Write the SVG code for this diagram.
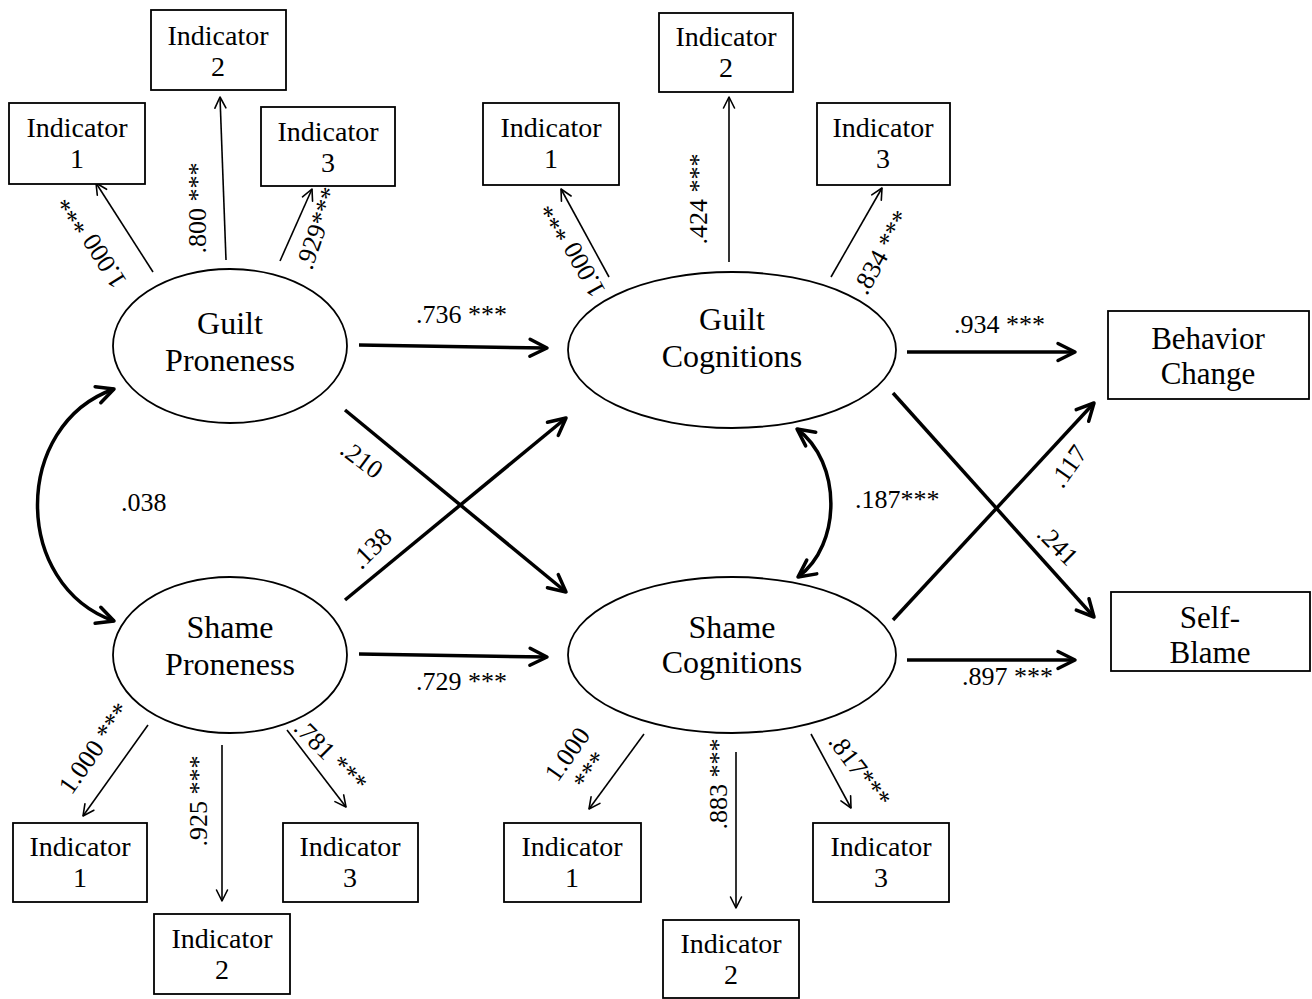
<svg xmlns="http://www.w3.org/2000/svg" width="1312" height="999" viewBox="0 0 1312 999">
<style>
text{font-family:"Liberation Serif","Times New Roman",serif;fill:#000}
.ind{font-size:28px;text-anchor:middle}
.lat{font-size:32px;text-anchor:middle}
.out{font-size:31px;text-anchor:middle}
.lbl{font-size:26px}
.c{text-anchor:middle}
rect{fill:#fff;stroke:#000;stroke-width:1.8}
ellipse{fill:#fff;stroke:#000;stroke-width:1.8}
.thin{stroke:#000;stroke-width:1.6;fill:none;marker-end:url(#ah)}
.thick{stroke:#000;stroke-width:3.5;fill:none;marker-end:url(#AH)}
.corr{stroke:#000;stroke-width:3.5;fill:none;marker-start:url(#AH2);marker-end:url(#AH2)}
</style>
<defs>
<marker id="ah" markerUnits="userSpaceOnUse" markerWidth="16" markerHeight="16" viewBox="-14 -8 16 16" refX="0" refY="0" orient="auto">
<path d="M-11,-5.5 L0,0 L-11,5.5" fill="none" stroke="#000" stroke-width="1.6" stroke-linejoin="round" stroke-linecap="round"/>
</marker>
<marker id="AH" markerUnits="userSpaceOnUse" markerWidth="26" markerHeight="26" viewBox="-22 -13 26 26" refX="0" refY="0" orient="auto">
<path d="M-17,-8.5 L0,0 L-17,8.5" fill="none" stroke="#000" stroke-width="3.5" stroke-linejoin="round" stroke-linecap="round"/>
</marker>
<marker id="AH2" markerUnits="userSpaceOnUse" markerWidth="26" markerHeight="26" viewBox="-22 -13 26 26" refX="0" refY="0" orient="auto-start-reverse">
<path d="M-17,-8.5 L0,0 L-17,8.5" fill="none" stroke="#000" stroke-width="3.5" stroke-linejoin="round" stroke-linecap="round"/>
</marker>
</defs>
<rect x="0" y="0" width="1312" height="999" style="fill:#fff;stroke:none"/>

<g id="connectors">
<!-- guilt proneness loadings -->
<path class="thin" d="M153,272 L96,183"/>
<path class="thin" d="M226,260 L220,97"/>
<path class="thin" d="M280,261 L312,189"/>
<!-- guilt cognitions loadings -->
<path class="thin" d="M609,277 L561,189"/>
<path class="thin" d="M729,262 L729,97"/>
<path class="thin" d="M831,277 L882,188"/>
<!-- shame proneness loadings -->
<path class="thin" d="M148,725 L83,816"/>
<path class="thin" d="M222,745 L222,901"/>
<path class="thin" d="M287,730 L346,807"/>
<!-- shame cognitions loadings -->
<path class="thin" d="M644,734 L589,809"/>
<path class="thin" d="M736,752 L736,908"/>
<path class="thin" d="M811,734 L851,808"/>
<!-- structural paths -->
<path class="thick" d="M359,345 L547,348"/>
<path class="thick" d="M359,654 L547,657"/>
<path class="thick" d="M345,410 L566,592"/>
<path class="thick" d="M345,600 L566,418"/>
<path class="thick" d="M907,352 L1075,352"/>
<path class="thick" d="M907,660 L1075,660"/>
<path class="thick" d="M893,393 L1094,617"/>
<path class="thick" d="M893,620 L1094,403"/>
<!-- correlations -->
<path class="corr" d="M114,389 C12,425 12,585 114,621"/>
<path class="corr" d="M797,429 C842,462 842,545 798,577"/>

<!-- labels -->
<text class="lbl c" transform="translate(92,242) rotate(238)" dy="9">1.000 ***</text>
<text class="lbl c" transform="translate(197,208) rotate(-90)" dy="9">.800 ***</text>
<text class="lbl c" transform="translate(317,228) rotate(-71)" dy="9">.929***</text>
<text class="lbl c" transform="translate(573,250) rotate(241)" dy="9">1.000 ***</text>
<text class="lbl c" transform="translate(698,199) rotate(-90)" dy="9">.424 ***</text>
<text class="lbl c" transform="translate(881,252) rotate(-61)" dy="9">.834 ***</text>
<text class="lbl c" transform="translate(94,748) rotate(-55)" dy="9">1.000 ***</text>
<text class="lbl c" transform="translate(198,801) rotate(-90)" dy="9">.925 ***</text>
<text class="lbl c" transform="translate(331,755) rotate(45)" dy="9">.781 ***</text>
<text class="lbl c" transform="translate(567,754) rotate(-55)" dy="9">1.000<tspan x="0" dy="28">***</tspan></text>
<text class="lbl c" transform="translate(718,784) rotate(-90)" dy="9">.883 ***</text>
<text class="lbl c" transform="translate(860,770) rotate(53)" dy="9">.817***</text>
<text class="lbl" x="416" y="323">.736 ***</text>
<text class="lbl" x="416" y="690">.729 ***</text>
<text class="lbl c" transform="translate(362,459) rotate(37)" dy="9">.210</text>
<text class="lbl c" transform="translate(371,548) rotate(-45)" dy="9">.138</text>
<text class="lbl" x="954" y="333">.934 ***</text>
<text class="lbl" x="962" y="685">.897 ***</text>
<text class="lbl c" transform="translate(1068,466) rotate(-55)" dy="9">.117</text>
<text class="lbl c" transform="translate(1058,545) rotate(45)" dy="9">.241</text>
<text class="lbl" x="121" y="511">.038</text>
<text class="lbl" x="855" y="508">.187***</text>
</g>

<g id="guilt-proneness">
<ellipse cx="230" cy="346" rx="117" ry="77"/>
<text class="lat" x="230" y="334">Guilt</text>
<text class="lat" x="230" y="371">Proneness</text>
</g>
<g id="guilt-cognitions">
<ellipse cx="732" cy="350" rx="164" ry="78"/>
<text class="lat" x="732" y="330">Guilt</text>
<text class="lat" x="732" y="367">Cognitions</text>
</g>
<g id="shame-proneness">
<ellipse cx="230" cy="655" rx="117" ry="78"/>
<text class="lat" x="230" y="638">Shame</text>
<text class="lat" x="230" y="675">Proneness</text>
</g>
<g id="shame-cognitions">
<ellipse cx="732" cy="655" rx="164" ry="78"/>
<text class="lat" x="732" y="638">Shame</text>
<text class="lat" x="732" y="673">Cognitions</text>
</g>
<g id="behavior-change">
<rect x="1108" y="311" width="201" height="88"/>
<text class="out" x="1208" y="349">Behavior</text>
<text class="out" x="1208" y="384">Change</text>
</g>
<g id="self-blame">
<rect x="1111" y="592" width="199" height="79"/>
<text class="out" x="1210" y="628">Self-</text>
<text class="out" x="1210" y="663">Blame</text>
</g>

<g id="gp-ind1"><rect x="9" y="103" width="136" height="81"/><text class="ind" x="77" y="137">Indicator</text><text class="ind" x="77" y="168">1</text></g>
<g id="gp-ind2"><rect x="151" y="10" width="135" height="80"/><text class="ind" x="218" y="45">Indicator</text><text class="ind" x="218" y="76">2</text></g>
<g id="gp-ind3"><rect x="261" y="107" width="134" height="79"/><text class="ind" x="328" y="141">Indicator</text><text class="ind" x="328" y="172">3</text></g>

<g id="gc-ind1"><rect x="483" y="103" width="136" height="82"/><text class="ind" x="551" y="137">Indicator</text><text class="ind" x="551" y="168">1</text></g>
<g id="gc-ind2"><rect x="659" y="13" width="134" height="79"/><text class="ind" x="726" y="46">Indicator</text><text class="ind" x="726" y="77">2</text></g>
<g id="gc-ind3"><rect x="817" y="103" width="133" height="82"/><text class="ind" x="883" y="137">Indicator</text><text class="ind" x="883" y="168">3</text></g>

<g id="sp-ind1"><rect x="13" y="823" width="134" height="79"/><text class="ind" x="80" y="856">Indicator</text><text class="ind" x="80" y="887">1</text></g>
<g id="sp-ind2"><rect x="154" y="914" width="136" height="80"/><text class="ind" x="222" y="948">Indicator</text><text class="ind" x="222" y="979">2</text></g>
<g id="sp-ind3"><rect x="283" y="823" width="135" height="79"/><text class="ind" x="350" y="856">Indicator</text><text class="ind" x="350" y="887">3</text></g>

<g id="sc-ind1"><rect x="504" y="823" width="137" height="79"/><text class="ind" x="572" y="856">Indicator</text><text class="ind" x="572" y="887">1</text></g>
<g id="sc-ind2"><rect x="663" y="920" width="136" height="78"/><text class="ind" x="731" y="953">Indicator</text><text class="ind" x="731" y="984">2</text></g>
<g id="sc-ind3"><rect x="813" y="823" width="136" height="79"/><text class="ind" x="881" y="856">Indicator</text><text class="ind" x="881" y="887">3</text></g>
</svg>
